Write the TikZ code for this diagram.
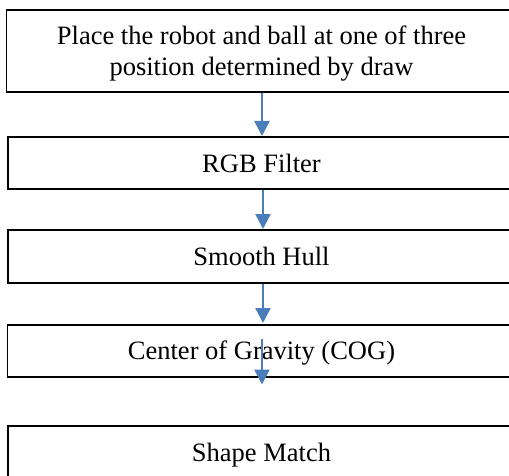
\documentclass[tikz,border=0pt]{standalone}
\usepackage{fontspec}
\setmainfont{Liberation Serif}
\usetikzlibrary{arrows.meta}
\definecolor{arrowblue}{RGB}{74,126,187}
\begin{document}
\begin{tikzpicture}[x=1pt,y=-1pt,
  stepbox/.style={draw=black,line width=1.6pt,rectangle,inner sep=0pt,anchor=north west},
  label/.style={font=\fontsize{26.5}{31}\selectfont,inner sep=0pt,anchor=base},
  flow/.style={draw=arrowblue,line width=2.4pt,-{Triangle[width=15pt,length=15pt]}}]
\useasboundingbox (0,0) rectangle (509,476);
\clip (0,0) rectangle (509,476);
% boxes (extend beyond the right edge)
\node[stepbox,minimum width=525pt,minimum height=81.5pt] (b1) at (5.5,9.5) {};
\node[stepbox,minimum width=525pt,minimum height=52pt] (b2) at (7,136) {};
\node[stepbox,minimum width=525pt,minimum height=53pt] (b3) at (7,229) {};
\node[stepbox,minimum width=525pt,minimum height=52pt] (b4) at (6.5,324) {};
\node[stepbox,minimum width=525pt,minimum height=80pt] (b5) at (7,425) {};
% texts
\node[label,align=center] (t1) at (261.5,76) {Place the robot and ball at one of three\\position determined by draw};
\node[label] (t2) at (261.5,172) {RGB Filter};
\node[label] (t3) at (261.5,265) {Smooth Hull};
\node[label] (t4) at (261.5,359) {Center of Gravity (COG)};
\node[label] (t5) at (261.5,461) {Shape Match};
% connectors
\coordinate (x1) at (262,0);
\coordinate (x2) at (263,0);
\draw[flow] (x1 |- b1.south) -- (x1 |- b2.north);
\draw[flow] (x2 |- b2.south) -- (x2 |- b3.north);
\draw[flow] (x2 |- b3.south) -- ([yshift=1pt]x2 |- b4.north);
\coordinate (a4s) at (262,339);
\coordinate (a4e) at (262,384.5);
\draw[flow] (a4s) -- (a4e);
\end{tikzpicture}
\end{document}
